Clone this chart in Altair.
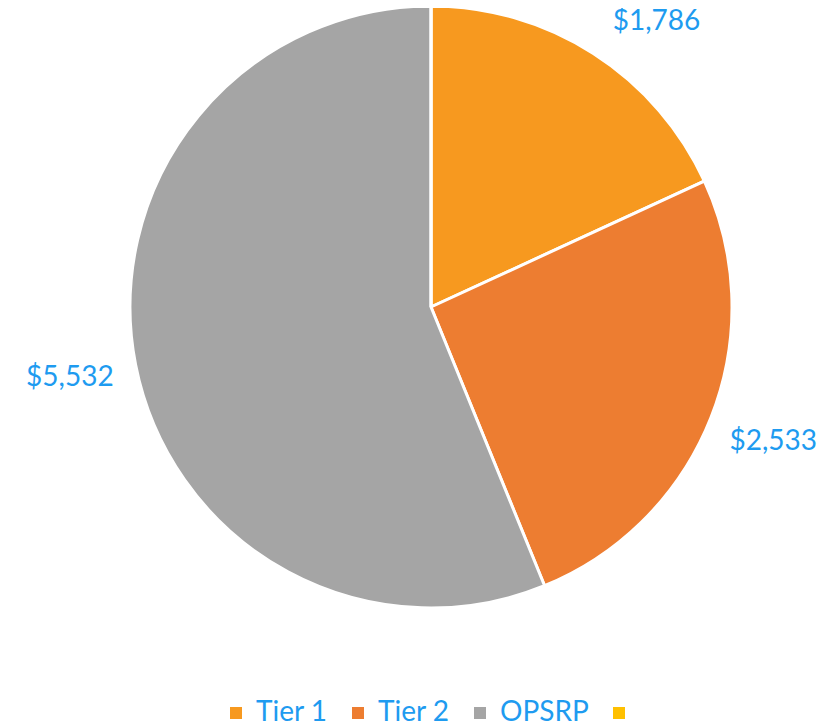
import altair as alt
import pandas as pd

categories = ["Tier 1", "Tier 2", "OPSRP", " "]
values = [1786, 2533, 5532, 0]
labels = ["$1,786", "$2,533", "$5,532", ""]
colors = ["#F7991F", "#ED7D31", "#A5A5A5", "#FFC000"]

df = pd.DataFrame({
    "cat": categories,
    "val": values,
    "label": labels,
    "idx": list(range(len(categories))),
})

CX, CY, R = 423, 299, 301
FONT = "Lato"
FS = 28
BLUE = "#1E9BF0"

color = alt.Color(
    "cat:N",
    scale=alt.Scale(domain=categories, range=colors),
    legend=alt.Legend(
        title=None,
        orient="none",
        legendX=214,
        legendY=691,
        direction="horizontal",
        symbolType="square",
        symbolSize=144,
        symbolStrokeWidth=0,
        labelFont=FONT,
        labelFontSize=FS,
        labelColor=BLUE,
        labelOffset=6,
        columnPadding=16,
    ),
)

base = alt.Chart(df)

pie = base.mark_arc(radius=R, stroke="white", strokeWidth=3).encode(
    theta=alt.Theta("val:Q", stack=True),
    color=color,
    order=alt.Order("idx:Q"),
    x=alt.value(CX),
    y=alt.value(CY),
)

texts = base.mark_text(font=FONT, fontSize=FS, color=BLUE).encode(
    theta=alt.Theta("val:Q", stack=True),
    order=alt.Order("idx:Q"),
    text=alt.condition(alt.datum.cat == "Tier 1", alt.value(""), alt.Text("label:N")),
    radius=alt.value(368),
    x=alt.value(CX),
    y=alt.value(CY),
)

first_text = base.mark_text(font=FONT, fontSize=FS, color=BLUE, dx=27, dy=25).encode(
    theta=alt.Theta("val:Q", stack=True),
    order=alt.Order("idx:Q"),
    text=alt.condition(alt.datum.cat == "Tier 1", alt.Text("label:N"), alt.value("")),
    radius=alt.value(368),
    x=alt.value(CX),
    y=alt.value(CY),
)

chart = alt.layer(pie, texts, first_text).properties(
    width=823, height=718, autosize=alt.AutoSizeParams(type="none"), padding=0
).configure_view(stroke=None)

chart.save("out.html", embed_options={"renderer": "svg", "actions": False})
